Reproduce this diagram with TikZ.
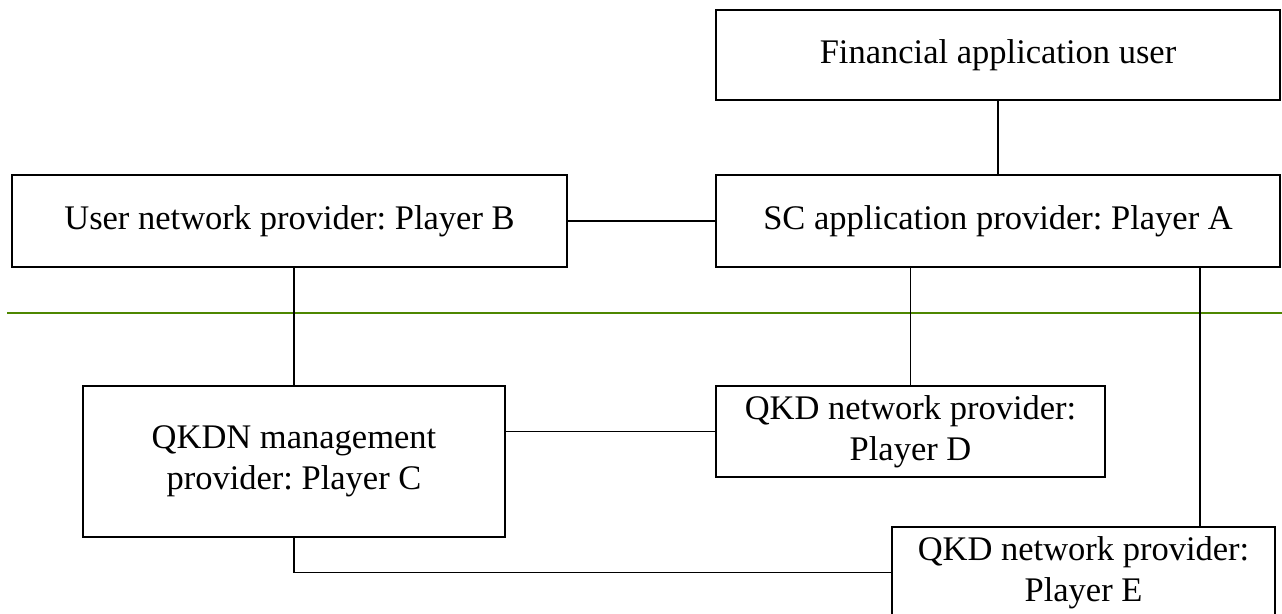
\documentclass[tikz,border=0pt]{standalone}
\usepackage{fontspec}
\setmainfont{Liberation Serif}
\definecolor{divgreen}{RGB}{78,135,0}
\frenchspacing
\begin{document}
\begin{tikzpicture}[x=1pt,y=-1pt,
  box/.style={draw=black, line width=1.3pt, fill=white, align=center, inner sep=0pt,
    font=\fontsize{34.5}{41}\selectfont},
  link/.style={draw=black, line width=1.3pt}]
\useasboundingbox (0,0) rectangle (1282,613);
\clip (0,0) rectangle (1282,613);
\fill[white] (0,0) rectangle (1282,613);
% divider
\draw[divgreen, line width=1.5pt] (7,313) -- (1282,313);
% boxes
\node[box, minimum width=564pt, minimum height=90pt] (fin) at (998,55) {Financial application user};
\node[box, minimum width=555pt, minimum height=92pt] (B) at (289.5,221) {User network provider: Player B};
\node[box, minimum width=564pt, minimum height=92pt] (A) at (998,221) {SC application provider: Player A};
\node[box, minimum width=422pt, minimum height=151pt] (C) at (294,461.5) {QKDN management\\provider: Player C};
\node[box, minimum width=389pt, minimum height=91pt] (D) at (910.5,431.5) {QKD network provider:\\Player D};
\node[box, minimum width=383pt, minimum height=91pt] (E) at (1083.5,572.5) {QKD network provider:\\Player E};
\coordinate (ae) at (1200,267);
% connectors
\draw[link] (fin.south) -- (A.north);
\draw[link] (B.east) -- (A.west);
\draw[link] (C.north) -- (C.north |- B.south);
\draw[link] (D.north) -- (D.north |- A.south);
\draw[link] (ae) -- (ae |- E.north);
\draw[link] (D.west) -- (D.west -| C.east);
\draw[link] (C.south) |- (E.west);
\end{tikzpicture}
\end{document}
